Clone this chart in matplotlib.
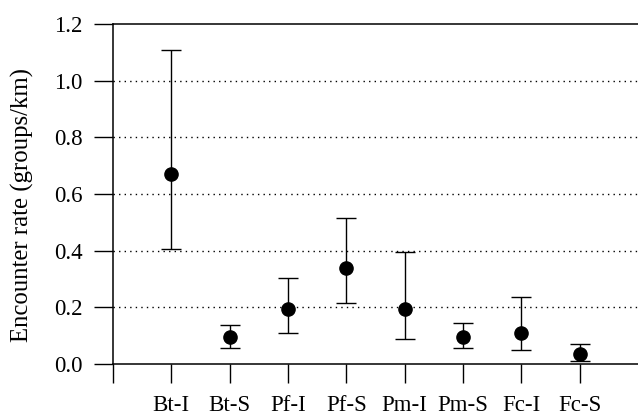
import matplotlib
matplotlib.use("Agg")
import matplotlib.pyplot as plt

plt.rcParams["font.family"] = ["Liberation Serif", "DejaVu Serif"]

# Encounter rates with confidence intervals
groups = ["Bt-I", "Bt-S", "Pf-I", "Pf-S", "Pm-I", "Pm-S", "Fc-I", "Fc-S"]
rate = [0.670, 0.094, 0.193, 0.338, 0.193, 0.094, 0.111, 0.034]
lower = [0.405, 0.055, 0.111, 0.217, 0.087, 0.058, 0.051, 0.012]
upper = [1.108, 0.136, 0.302, 0.514, 0.394, 0.143, 0.235, 0.069]
yticks = [0.0, 0.2, 0.4, 0.6, 0.8, 1.0, 1.2]

fig = plt.figure(figsize=(6.38, 4.19), dpi=100)
ax = fig.add_axes([0.177, 0.1313, 0.823, 0.8114])

xs = list(range(1, len(groups) + 1))
err_lo = [r - lo for r, lo in zip(rate, lower)]
err_hi = [hi - r for r, hi in zip(rate, upper)]

ax.errorbar(xs, rate, yerr=[err_lo, err_hi], fmt="o", color="black",
            markersize=9.5, ecolor="black", elinewidth=1.0, capsize=7,
            capthick=1.0, zorder=3)

# Dotted horizontal grid
for y in yticks[1:-1]:
    ax.axhline(y, color="black", linestyle=(0, (1, 3)), linewidth=1.0, zorder=1)

ax.set_xlim(0, 9)
ax.set_ylim(0, 1.2)
ax.set_yticks(yticks)
ax.set_yticklabels([f"{v:.1f}" for v in yticks])
ax.set_xticks([0] + xs)
ax.set_xticklabels([""] + groups)

ax.spines["right"].set_visible(False)
for s in ["left", "bottom", "top"]:
    ax.spines[s].set_linewidth(1.1)

ax.tick_params(axis="both", direction="out", length=14, width=1.0,
               labelsize=16.5, color="black")
ax.tick_params(axis="y", pad=8)
ax.tick_params(axis="x", pad=8)
ax.set_ylabel("Encounter rate (groups/km)", fontsize=17.8)
ax.yaxis.set_label_coords(-0.150, 0.468)

fig.savefig("out.png", dpi=100)
